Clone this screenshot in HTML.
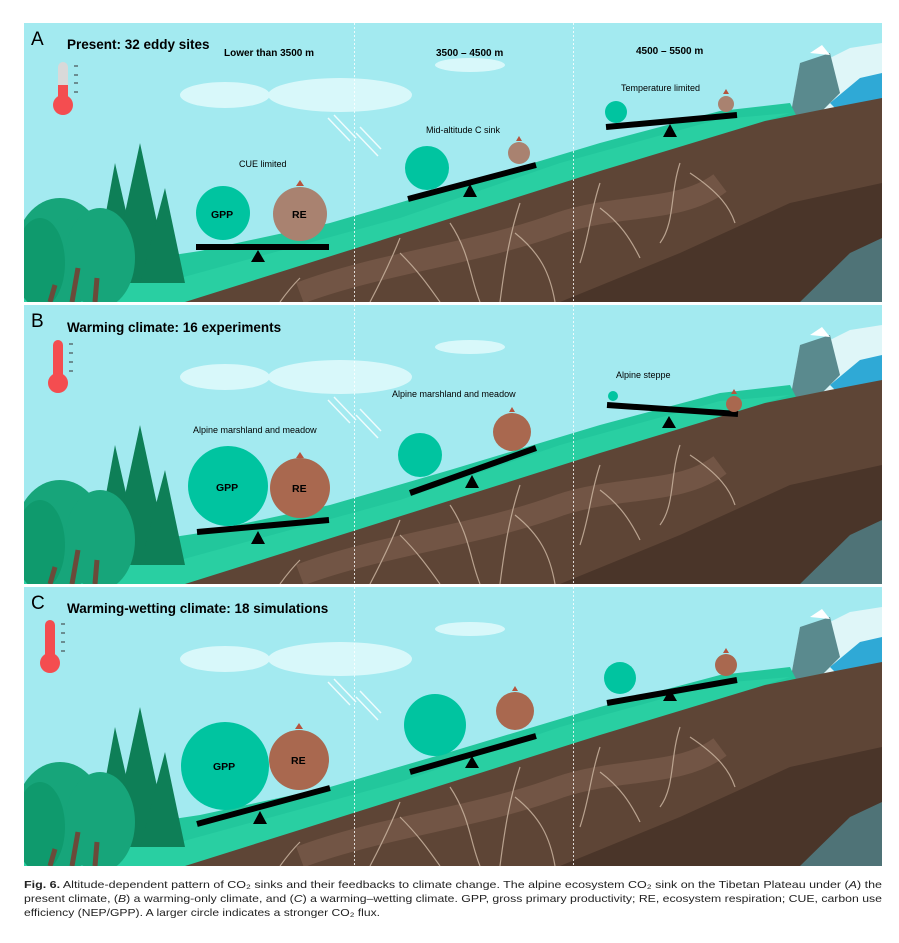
<!DOCTYPE html>
<html><head><meta charset="utf-8"><style>html,body{margin:0;padding:0;background:#fff}svg{display:block}text{font-family:"Liberation Sans",sans-serif}</style></head><body>
<svg width="899" height="943" viewBox="0 0 899 943" xmlns="http://www.w3.org/2000/svg">
<defs>
<clipPath id="pc"><rect x="24" y="0" width="858" height="279"/></clipPath>
<g id="bg">
<g clip-path="url(#pc)">
<rect x="24" y="0" width="858" height="279" fill="#a3eaf0"/>
<ellipse cx="225" cy="72" rx="45" ry="13" fill="#d8f8fa"/>
<ellipse cx="340" cy="72" rx="72" ry="17" fill="#d8f8fa"/>
<ellipse cx="470" cy="42" rx="35" ry="7" fill="#d8f8fa"/>
<g stroke="#eefcfd" stroke-width="1.5"><line x1="328" y1="95" x2="350" y2="118"/><line x1="334" y1="92" x2="356" y2="115"/><line x1="356" y1="110" x2="378" y2="133"/><line x1="360" y1="104" x2="381" y2="126"/></g>
<polygon points="790,95 800,40 830,35 850,25 882,20 882,100" fill="#dff6f8"/>
<polygon points="800,40 830,30 840,70 815,95 790,95" fill="#5a8a8e"/>
<polygon points="810,30 822,22 830,32" fill="#fff"/>
<polygon points="830,80 860,55 882,50 882,95 850,100" fill="#2fa9d6"/>
<polygon points="24,279 24,230 120,240 200,228 330,200 450,165 600,120 720,88 790,80 800,100 600,160 190,279" fill="#22c79c"/>
<polygon points="24,279 24,250 180,255 400,195 560,140 720,96 790,90 600,150 190,279" fill="#2fd4a6" opacity="0.6"/>
<polygon points="185,279 420,205 600,148 765,98 830,85 882,75 882,279" fill="#5e4536"/>
<polygon points="560,279 680,230 790,180 882,160 882,279" fill="#4a3529"/>
<polygon points="800,279 850,230 882,215 882,279" fill="#4f7377"/>
<path d="M300,270 C380,240 480,230 560,200 C620,180 680,190 720,160" stroke="#7a5d4c" stroke-width="22" fill="none" opacity="0.7"/>
<g stroke="#c9b39f" stroke-width="1.2" fill="none" opacity="0.85">
<path d="M400,215 C390,240 380,260 370,279 M400,230 C420,250 430,265 440,279"/>
<path d="M520,180 C510,210 505,240 500,279 M515,210 C540,230 550,250 555,279"/>
<path d="M600,160 C590,190 590,210 580,240 M600,185 C620,200 630,215 640,235"/>
<path d="M680,140 C670,170 675,200 660,220 M690,150 C720,170 730,185 735,200"/>
<path d="M300,255 C290,265 285,272 280,279 M450,200 C470,230 470,255 480,279"/>
</g>
<g fill="#0e7f57"><polygon points="115,140 95,250 140,250"/><polygon points="140,120 110,260 170,260"/><polygon points="165,165 140,260 185,260"/></g>
<g fill="#17a57a"><ellipse cx="60" cy="230" rx="45" ry="55"/><ellipse cx="100" cy="235" rx="35" ry="50"/></g>
<g fill="#0f9a6d"><ellipse cx="40" cy="240" rx="25" ry="45"/></g>
<g stroke="#6b4a3a" stroke-width="5"><line x1="72" y1="279" x2="78" y2="245"/><line x1="95" y1="279" x2="97" y2="255"/><line x1="50" y1="279" x2="55" y2="262"/></g>
<line x1="354.5" y1="0" x2="354.5" y2="279" stroke="#fff" stroke-dasharray="2,2" stroke-width="0.8"/>
<line x1="573.5" y1="0" x2="573.5" y2="279" stroke="#fff" stroke-dasharray="2,2" stroke-width="0.8"/>
</g>
</g>
</defs>
<use href="#bg" x="0" y="23"/>
<use href="#bg" x="0" y="305"/>
<use href="#bg" x="0" y="587"/>

<g font-weight="bold" fill="#000">
<text x="31" y="45" font-size="19" font-weight="normal">A</text>
<text x="67" y="49" font-size="13.5">Present: 32 eddy sites</text>
<text x="224" y="56" font-size="10">Lower than 3500 m</text>
<text x="436" y="56" font-size="10">3500 – 4500 m</text>
<text x="636" y="54" font-size="10">4500 – 5500 m</text>
<text x="31" y="327" font-size="19" font-weight="normal">B</text>
<text x="67" y="332" font-size="13.5">Warming climate: 16 experiments</text>
<text x="31" y="609" font-size="19" font-weight="normal">C</text>
<text x="67" y="613" font-size="13.5">Warming-wetting climate: 18 simulations</text>
</g>
<g><rect x="58" y="62" width="10" height="28" rx="5" fill="#d9d9d9"/><rect x="58" y="85" width="10" height="18" fill="#f44d50"/><circle cx="63" cy="105" r="10" fill="#f44d50"/>
<g stroke="#333" stroke-width="1"><line x1="74" y1="66" x2="78" y2="66"/><line x1="74" y1="75" x2="78" y2="75"/><line x1="74" y1="83" x2="78" y2="83"/><line x1="74" y1="92" x2="78" y2="92"/></g></g>
<g><rect x="53" y="340" width="10" height="40" rx="5" fill="#f44d50"/><circle cx="58" cy="383" r="10" fill="#f44d50"/>
<g stroke="#333" stroke-width="1"><line x1="69" y1="344" x2="73" y2="344"/><line x1="69" y1="353" x2="73" y2="353"/><line x1="69" y1="362" x2="73" y2="362"/><line x1="69" y1="371" x2="73" y2="371"/></g></g>
<g><rect x="45" y="620" width="10" height="40" rx="5" fill="#f44d50"/><circle cx="50" cy="663" r="10" fill="#f44d50"/>
<g stroke="#333" stroke-width="1"><line x1="61" y1="624" x2="65" y2="624"/><line x1="61" y1="633" x2="65" y2="633"/><line x1="61" y1="642" x2="65" y2="642"/><line x1="61" y1="651" x2="65" y2="651"/></g></g>

<g font-size="9" fill="#000">
<text x="239" y="167">CUE limited</text>
<text x="426" y="133">Mid-altitude C sink</text>
<text x="621" y="91">Temperature limited</text>
<text x="193" y="433">Alpine marshland and meadow</text>
<text x="392" y="397">Alpine marshland and meadow</text>
<text x="616" y="378">Alpine steppe</text>
</g>

<g stroke="#000" stroke-width="6">
<line x1="196" y1="247" x2="329" y2="247"/>
<line x1="408" y1="199" x2="536" y2="165"/>
<line x1="606" y1="127" x2="737" y2="115"/>
<line x1="197" y1="532" x2="329" y2="520"/>
<line x1="410" y1="493" x2="536" y2="448"/>
<line x1="607" y1="405" x2="738" y2="414"/>
<line x1="197" y1="824" x2="330" y2="788"/>
<line x1="410" y1="772" x2="536" y2="736"/>
<line x1="607" y1="703" x2="737" y2="680"/>
</g>
<g fill="#000">
<polygon points="258,250 251,262 265,262"/><polygon points="470,184 463,197 477,197"/><polygon points="670,124 663,137 677,137"/>
<polygon points="258,531 251,544 265,544"/><polygon points="472,475 465,488 479,488"/><polygon points="669,416 662,428 676,428"/>
<polygon points="260,811 253,824 267,824"/><polygon points="472,756 465,768 479,768"/><polygon points="670,689 663,701 677,701"/>
</g>
<g fill="#00c4a0">
<circle cx="223" cy="213" r="27"/><circle cx="427" cy="168" r="22"/><circle cx="616" cy="112" r="11"/>
<circle cx="228" cy="486" r="40"/><circle cx="420" cy="455" r="22"/><circle cx="613" cy="396" r="5"/>
<circle cx="225" cy="766" r="44"/><circle cx="435" cy="725" r="31"/><circle cx="620" cy="678" r="16"/>
</g>
<g fill="#a98270">
<circle cx="300" cy="214" r="27"/><circle cx="519" cy="153" r="11"/><circle cx="726" cy="104" r="8"/>
</g>
<g fill="#a9684f">
<circle cx="300" cy="488" r="30"/><circle cx="512" cy="432" r="19"/><circle cx="734" cy="404" r="8"/>
<circle cx="299" cy="760" r="30"/><circle cx="515" cy="711" r="19"/><circle cx="726" cy="665" r="11"/>
</g>
<g fill="#b5543e">
<polygon points="300,180 296,186 304,186"/><polygon points="519,136 516,141 522,141"/><polygon points="726,89 723,94 729,94"/>
<polygon points="300,452 296,458 304,458"/><polygon points="512,407 509,412 515,412"/><polygon points="734,389 731,394 737,394"/>
<polygon points="299,723 295,729 303,729"/><polygon points="515,686 512,691 518,691"/><polygon points="726,648 723,653 729,653"/>
</g>
<g font-size="10.5" font-weight="bold" fill="#000">
<text x="211" y="218">GPP</text><text x="292" y="218">RE</text>
<text x="216" y="491">GPP</text><text x="292" y="492">RE</text>
<text x="213" y="770">GPP</text><text x="291" y="764">RE</text>
</g>

<g font-size="10.5" fill="#222">
<text x="24" y="888" textLength="858" lengthAdjust="spacingAndGlyphs"><tspan font-weight="bold">Fig. 6.</tspan>   Altitude-dependent pattern of CO₂ sinks and their feedbacks to climate change. The alpine ecosystem CO₂ sink on the Tibetan Plateau under (<tspan font-style="italic">A</tspan>) the</text>
<text x="24" y="902" textLength="858" lengthAdjust="spacingAndGlyphs">present climate, (<tspan font-style="italic">B</tspan>) a warming-only climate, and (<tspan font-style="italic">C</tspan>) a warming–wetting climate. GPP, gross primary productivity; RE, ecosystem respiration; CUE, carbon use</text>
<text x="24" y="916" textLength="356" lengthAdjust="spacingAndGlyphs">efficiency (NEP/GPP). A larger circle indicates a stronger CO₂ flux.</text>
</g>
</svg>
</body></html>
